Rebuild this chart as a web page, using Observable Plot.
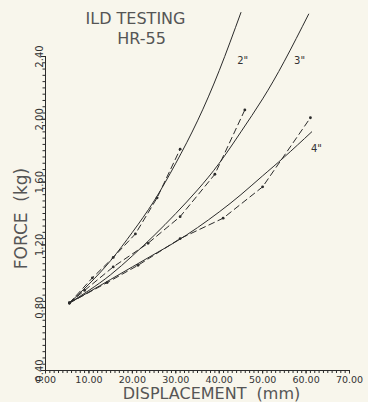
<!DOCTYPE html>
<html>
<head>
<meta charset="utf-8">
<script src="https://cdn.jsdelivr.net/npm/d3@7"></script>
<script src="https://cdn.jsdelivr.net/npm/@observablehq/plot@0.6"></script>
<style>
  html, body { margin: 0; padding: 0; background: #f8f6ec; }
  #chart svg { display: block; }
</style>
</head>
<body>
<div id="chart"></div>
<script>
// Tick labels
const xMajor = [0, 10, 20, 30, 40, 50, 60, 70];
const yMajor = [0.4, 0.8, 1.2, 1.6, 2.0, 2.4];

// Fitted (solid) curves
const fit2X = [5.5, 10, 15, 20, 25, 30, 35, 40, 45];
const fit2Y = [0.83, 0.95, 1.10, 1.28, 1.48, 1.72, 1.99, 2.31, 2.68];
const fit3X = [5.5, 10, 15, 20, 25, 30, 35, 40, 45, 50, 55, 60.6];
const fit3Y = [0.83, 0.91, 1.01, 1.13, 1.26, 1.40, 1.55, 1.72, 1.92, 2.13, 2.37, 2.67];
const fit4X = [5.5, 10, 15, 20, 25, 30, 35, 40, 45, 50, 55, 61.3];
const fit4Y = [0.83, 0.90, 0.98, 1.06, 1.14, 1.22, 1.31, 1.41, 1.52, 1.64, 1.76, 1.92];

// Measured (dashed) data
const meas2X = [5.5, 10.8, 15.6, 20.7, 25.7, 31.0];
const meas2Y = [0.83, 0.99, 1.12, 1.27, 1.50, 1.81];
const meas3X = [5.5, 9.0, 15.6, 23.6, 31.0, 39.0, 45.9];
const meas3Y = [0.83, 0.91, 1.06, 1.21, 1.38, 1.65, 2.06];
const meas4X = [5.5, 14.2, 21.3, 31.0, 40.9, 50.0, 61.0];
const meas4Y = [0.83, 0.96, 1.07, 1.24, 1.37, 1.57, 2.01];

// Curve labels
const labelText = ['2"', '3"', '4"'];
const labelX = [45.4, 58.5, 62.4];
const labelY = [2.37, 2.37, 1.81];

const toRows = (xs, ys) => xs.map((x, i) => ({x, y: ys[i]}));
const fits = [toRows(fit2X, fit2Y), toRows(fit3X, fit3Y), toRows(fit4X, fit4Y)];
const meas = [toRows(meas2X, meas2Y), toRows(meas3X, meas3Y), toRows(meas4X, meas4Y)];
const labels = labelText.map((t, i) => ({t, x: labelX[i], y: labelY[i]}));

const xMinor = d3.range(0, 70.001, 1);
const yMinor = d3.range(0.4, 2.4001, 0.04);

const ink = "#2b2b2b";
const font = "DejaVu Sans, sans-serif";

const chart = Plot.plot({
  width: 368,
  height: 402,
  marginLeft: 45,
  marginRight: 19,
  marginTop: 56,
  marginBottom: 32,
  style: {background: "#f8f6ec", fontFamily: font, color: "#444"},
  x: {domain: [0, 70]},
  y: {domain: [0.4, 2.4]},
  marks: [
    // axis lines
    Plot.ruleY([0.4], {x1: 0, x2: 70, stroke: ink, strokeWidth: 1}),
    Plot.ruleX([0], {y1: 0.4, y2: 2.4, stroke: ink, strokeWidth: 1}),
    // ticks
    Plot.axisX({ticks: xMinor, tickSize: 3, tickFormat: () => "", label: null, stroke: ink}),
    Plot.axisX({ticks: xMajor, tickSize: 3.5, tickPadding: 2, tickFormat: d => d.toFixed(2), label: null, fontSize: 9.5, fill: "#333", stroke: ink}),
    Plot.axisY({ticks: yMinor, tickSize: 2.5, tickFormat: () => "", label: null, stroke: ink}),
    Plot.axisY({ticks: yMajor, tickSize: 4, tickFormat: () => "", label: null, stroke: ink}),
    Plot.text(yMajor, {y: d => d, frameAnchor: "left", dx: -3, rotate: -90, textAnchor: "middle", lineAnchor: "bottom", text: d => d.toFixed(2), fontSize: 10, fill: "#333"}),
    // fitted curves
    ...fits.map(f => Plot.line(f, {x: "x", y: "y", curve: "natural", stroke: ink, strokeWidth: 1})),
    // measured data
    ...meas.map(m => Plot.line(m, {x: "x", y: "y", stroke: ink, strokeWidth: 1, strokeDasharray: "6,4"})),
    ...meas.map(m => Plot.dot(m, {x: "x", y: "y", r: 1.4, fill: ink, stroke: null})),
    // curve labels
    Plot.text(labels, {x: "x", y: "y", text: "t", fontSize: 10, fill: "#333"}),
    // titles
    Plot.text(["ILD TESTING"], {frameAnchor: "top", dx: -62, dy: -38, textAnchor: "middle", lineAnchor: "middle", fontSize: 16, fill: "#555"}),
    Plot.text(["HR-55"], {frameAnchor: "top", dx: -56, dy: -18, textAnchor: "middle", lineAnchor: "middle", fontSize: 16, fill: "#555"}),
    Plot.text(["DISPLACEMENT  (mm)"], {frameAnchor: "bottom", dx: 14, dy: 23.5, textAnchor: "middle", lineAnchor: "middle", fontSize: 16, fill: "#555"}),
    Plot.text(["FORCE  (kg)"], {frameAnchor: "left", dx: -24, dy: 5, rotate: -90, textAnchor: "middle", lineAnchor: "middle", fontSize: 17, fill: "#555"})
  ]
});
document.getElementById("chart").appendChild(chart);
</script>
</body>
</html>
